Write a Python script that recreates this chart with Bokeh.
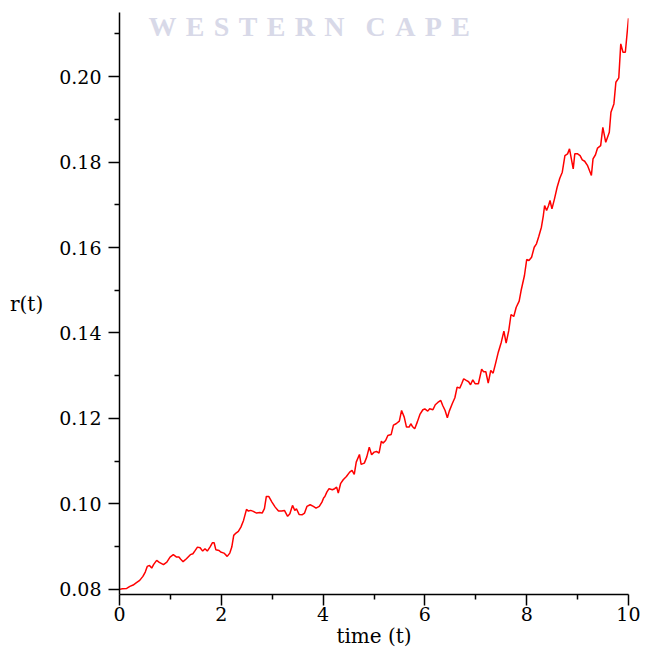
from bokeh.plotting import figure
from bokeh.models import FixedTicker, NumeralTickFormatter, Label, Range1d
from bokeh.embed import file_html
from bokeh.resources import INLINE

# ---- data ----
t = [0.0, 0.056, 0.141, 0.204, 0.268, 0.333, 0.397, 0.460, 0.506, 0.545, 0.589, 0.633, 0.672,
     0.730, 0.782, 0.864, 0.930, 0.993, 1.057, 1.122, 1.167, 1.199, 1.249, 1.315, 1.392, 1.442,
     1.488, 1.532, 1.584, 1.634, 1.680, 1.725, 1.777, 1.827, 1.859, 1.892, 1.956, 1.988, 2.052,
     2.116, 2.167, 2.206, 2.244, 2.289, 2.335, 2.385, 2.437, 2.495, 2.533, 2.577, 2.629, 2.693,
     2.758, 2.803, 2.847, 2.885, 2.932, 2.995, 3.059, 3.124, 3.188, 3.240, 3.303, 3.347, 3.399,
     3.444, 3.476, 3.528, 3.592, 3.636, 3.682, 3.746, 3.809, 3.861, 3.925, 3.977, 4.010, 4.035,
     4.073, 4.117, 4.183, 4.227, 4.266, 4.298, 4.343, 4.395, 4.458, 4.522, 4.568, 4.612, 4.651,
     4.714, 4.747, 4.810, 4.857, 4.907, 4.953, 5.003, 5.049, 5.099, 5.145, 5.176, 5.228, 5.272,
     5.338, 5.382, 5.434, 5.498, 5.542, 5.594, 5.638, 5.690, 5.723, 5.754, 5.800, 5.850, 5.902,
     5.960, 5.998, 6.056, 6.094, 6.158, 6.204, 6.254, 6.312, 6.350, 6.397, 6.441, 6.479, 6.537,
     6.589, 6.633, 6.685, 6.723, 6.762, 6.812, 6.859, 6.897, 6.941, 6.986, 7.051, 7.115, 7.153,
     7.197, 7.244, 7.294, 7.340, 7.390, 7.442, 7.501, 7.552, 7.596, 7.648, 7.692, 7.746, 7.794,
     7.852, 7.890, 7.956, 8.000, 8.044, 8.096, 8.148, 8.192, 8.237, 8.289, 8.327, 8.352, 8.391,
     8.430, 8.458, 8.496, 8.546, 8.598, 8.650, 8.699, 8.751, 8.803, 8.841, 8.914, 8.945, 9.001,
     9.049, 9.092, 9.139, 9.193, 9.271, 9.303, 9.351, 9.392, 9.453, 9.496, 9.553, 9.623, 9.655,
     9.713, 9.752, 9.809, 9.848, 9.892, 9.938, 10.0]
r = [0.08000, 0.08016, 0.08023, 0.08070, 0.08101, 0.08157, 0.08211, 0.08304, 0.08405, 0.08538,
     0.08561, 0.08498, 0.08585, 0.08678, 0.08632, 0.08578, 0.08639, 0.08756, 0.08812, 0.08756,
     0.08756, 0.08709, 0.08648, 0.08718, 0.08812, 0.08835, 0.08912, 0.08989, 0.08975, 0.08896,
     0.08952, 0.08896, 0.08989, 0.09092, 0.09092, 0.08929, 0.08912, 0.08873, 0.08849, 0.08772,
     0.08849, 0.08989, 0.09263, 0.09317, 0.09357, 0.09457, 0.09614, 0.09871, 0.09832, 0.09848,
     0.09825, 0.09785, 0.09801, 0.09785, 0.09888, 0.10175, 0.10175, 0.10042, 0.09925, 0.09832,
     0.09832, 0.09848, 0.09708, 0.09771, 0.09965, 0.09848, 0.09888, 0.09754, 0.09747, 0.09785,
     0.09942, 0.09981, 0.09942, 0.09902, 0.09942, 0.10042, 0.10140, 0.10175, 0.10276, 0.10356,
     0.10332, 0.10356, 0.10393, 0.10253, 0.10473, 0.10566, 0.10643, 0.10744, 0.10784, 0.10690,
     0.10978, 0.11158, 0.10924, 0.10954, 0.11095, 0.11329, 0.11151, 0.11212, 0.11228, 0.11188,
     0.11469, 0.11422, 0.11485, 0.11602, 0.11626, 0.11843, 0.11876, 0.11937, 0.12187, 0.12031,
     0.11797, 0.11797, 0.11876, 0.11813, 0.11759, 0.11914, 0.12094, 0.12204, 0.12222, 0.12171,
     0.12227, 0.12204, 0.12321, 0.12374, 0.12421, 0.12304, 0.12187, 0.12016, 0.12171, 0.12344,
     0.12484, 0.12733, 0.12709, 0.12812, 0.12929, 0.12889, 0.12859, 0.12788, 0.12905, 0.12812,
     0.12812, 0.13154, 0.13093, 0.13093, 0.12826, 0.13123, 0.13060, 0.13294, 0.13551, 0.13785,
     0.14042, 0.13762, 0.14059, 0.14433, 0.14386, 0.14603, 0.14744, 0.14994, 0.15345, 0.15719,
     0.15696, 0.15773, 0.16007, 0.16087, 0.16257, 0.16475, 0.16749, 0.16983, 0.16866, 0.16983,
     0.17100, 0.16905, 0.17139, 0.17411, 0.17621, 0.17762, 0.18152, 0.18192, 0.18309, 0.17841,
     0.18192, 0.18192, 0.18152, 0.18052, 0.18019, 0.17923, 0.17685, 0.18075, 0.18171, 0.18328,
     0.18386, 0.18814, 0.18463, 0.18697, 0.19165, 0.19361, 0.19867, 0.19970, 0.20765, 0.20569,
     0.20569, 0.21364]

x_major_ticks = [0, 2, 4, 6, 8, 10]
x_minor_ticks = [1, 3, 5, 7, 9]
y_major_ticks = [0.08, 0.10, 0.12, 0.14, 0.16, 0.18, 0.20]
y_minor_ticks = [0.09, 0.11, 0.13, 0.15, 0.17, 0.19, 0.21]
x_label = "time (t)"
y_label = "r(t)"
watermark = "WESTERN CAPE"

X0, X1 = 0.0, 10.0
Y0, Y1 = 0.0788, 0.2150

# ---- layout (canvas pixels) ----
W, H = 640, 650
ML, MR, MT, MB = 119, 12, 12, 56
FW, FH = W - ML - MR, H - MT - MB

def dx(px):  # canvas x -> data x
    return X0 + (px - ML) / FW * (X1 - X0)

def dy(py):  # canvas y -> data y
    return Y0 + (MT + FH - py) / FH * (Y1 - Y0)

FONT = "DejaVu Serif"

p = figure(width=W, height=H, output_backend="svg", toolbar_location=None,
           x_range=Range1d(X0, X1), y_range=Range1d(Y0, Y1),
           min_border_left=ML, min_border_right=MR, min_border_top=MT, min_border_bottom=MB)
p.outline_line_color = None
p.grid.visible = False
p.background_fill_color = "white"
p.border_fill_color = "white"

for ax in (p.xaxis[0], p.yaxis[0]):
    ax.axis_line_color = "black"
    ax.axis_line_width = 1.5
    ax.major_tick_line_width = 1.5
    ax.minor_tick_line_width = 1.5
    ax.major_tick_in = 0
    ax.minor_tick_in = 0
    ax.major_tick_out = 11
    ax.minor_tick_out = 5
    ax.major_label_text_font = FONT
    ax.major_label_text_font_size = "19px"
    ax.major_label_text_color = "black"
    ax.axis_label_text_font = FONT
    ax.axis_label_text_font_size = "20px"
    ax.axis_label_text_font_style = "normal"
    ax.axis_label_text_color = "black"

p.xaxis[0].ticker = FixedTicker(ticks=x_major_ticks, minor_ticks=x_minor_ticks)
p.yaxis[0].ticker = FixedTicker(ticks=y_major_ticks, minor_ticks=y_minor_ticks)
p.yaxis[0].formatter = NumeralTickFormatter(format="0.00")
p.xaxis[0].major_label_standoff = 1
p.yaxis[0].major_label_standoff = 7

p.xaxis[0].axis_label = x_label
p.xaxis[0].axis_label_standoff = 0
p.yaxis[0].axis_label = y_label
p.yaxis[0].axis_label_standoff = 13
if "axis_label_orientation" in p.yaxis[0].properties():
    p.yaxis[0].axis_label_orientation = "horizontal"

# watermark (letter-spaced with non-collapsing spaces)
GAP = "\u00a0\u200a"
WORD_GAP = "\u00a0" * 3
wm_text = WORD_GAP.join(GAP.join(list(w)) for w in watermark.split(" "))
p.add_layout(Label(x=dx(148), y=dy(26), text=wm_text,
                   text_font="Liberation Serif", text_font_style="bold", text_font_size="28px",
                   text_color="#d8d9e8", text_align="left", text_baseline="middle"))

p.line(t, r, line_color="#ff0000", line_width=1.5)

open("out.html", "w").write(file_html(p, INLINE))
